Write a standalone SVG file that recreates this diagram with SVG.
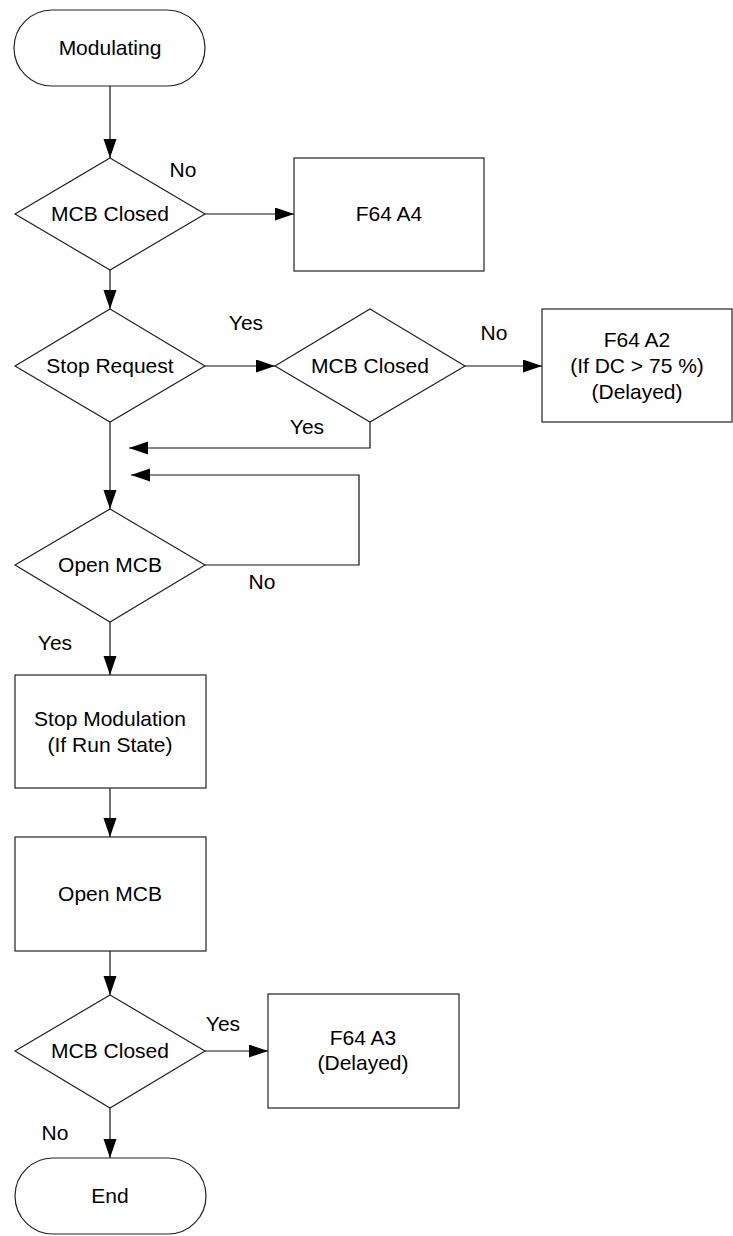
<svg xmlns="http://www.w3.org/2000/svg" width="733" height="1236" viewBox="0 0 733 1236">
<style>
.s{fill:#fff;stroke:#222;stroke-width:1.2}
.c{fill:none;stroke:#111;stroke-width:1.2}
text{font-family:"Liberation Sans",Arial,sans-serif;font-size:21px;fill:#000;text-anchor:middle}
</style>
<defs>
<marker id="ah" markerUnits="userSpaceOnUse" markerWidth="20" markerHeight="14" refX="19" refY="6.5" orient="auto">
<path d="M0,0 L19,6.5 L0,13 z" fill="#000"/>
</marker>
</defs>
<rect width="733" height="1236" fill="#fff"/>
<g id="connectors">
<path class="c" d="M110,86 V158" marker-end="url(#ah)"/>
<path class="c" d="M205,214 H294" marker-end="url(#ah)"/>
<path class="c" d="M110,270 V309" marker-end="url(#ah)"/>
<path class="c" d="M205,366 H275" marker-end="url(#ah)"/>
<path class="c" d="M465,366 H542" marker-end="url(#ah)"/>
<path class="c" d="M110,422 V509" marker-end="url(#ah)"/>
<path class="c" d="M370,422 V448 H129" marker-end="url(#ah)"/>
<path class="c" d="M205,565 H359 V475 H131" marker-end="url(#ah)"/>
<path class="c" d="M110,622 V675" marker-end="url(#ah)"/>
<path class="c" d="M110,788 V837" marker-end="url(#ah)"/>
<path class="c" d="M110,951 V995" marker-end="url(#ah)"/>
<path class="c" d="M205,1051 H268" marker-end="url(#ah)"/>
<path class="c" d="M110,1108 V1158" marker-end="url(#ah)"/>
<text x="183" y="177">No</text>
<text x="246" y="330">Yes</text>
<text x="494" y="340">No</text>
<text x="307" y="434">Yes</text>
<text x="262" y="589">No</text>
<text x="55" y="650">Yes</text>
<text x="223" y="1031">Yes</text>
<text x="55" y="1140">No</text>
</g>
<g id="modulating">
<rect class="s" x="14" y="10" width="191" height="76" rx="38" ry="38"/>
<text x="110" y="55">Modulating</text>
</g>
<g id="mcb-closed-1">
<polygon class="s" points="110,158 205,214 110,270 15,214"/>
<text x="110" y="221">MCB Closed</text>
</g>
<g id="f64-a4">
<rect class="s" x="294" y="158" width="190" height="113"/>
<text x="389" y="221">F64 A4</text>
</g>
<g id="stop-request">
<polygon class="s" points="110,309 205,366 110,422 15,366"/>
<text x="110" y="373">Stop Request</text>
</g>
<g id="mcb-closed-2">
<polygon class="s" points="370,309 465,366 370,422 275,366"/>
<text x="370" y="373">MCB Closed</text>
</g>
<g id="f64-a2">
<rect class="s" x="542" y="309" width="190" height="113"/>
<text x="637" y="347">F64 A2</text>
<text x="637" y="373">(If DC &gt; 75 %)</text>
<text x="637" y="399">(Delayed)</text>
</g>
<g id="open-mcb-decision">
<polygon class="s" points="110,509 205,565 110,622 15,565"/>
<text x="110" y="572">Open MCB</text>
</g>
<g id="stop-modulation">
<rect class="s" x="15" y="675" width="191" height="113"/>
<text x="110" y="726">Stop Modulation</text>
<text x="110" y="752">(If Run State)</text>
</g>
<g id="open-mcb">
<rect class="s" x="15" y="837" width="191" height="114"/>
<text x="110" y="901">Open MCB</text>
</g>
<g id="mcb-closed-3">
<polygon class="s" points="110,995 205,1051 110,1108 15,1051"/>
<text x="110" y="1058">MCB Closed</text>
</g>
<g id="f64-a3">
<rect class="s" x="268" y="994" width="191" height="114"/>
<text x="363" y="1045">F64 A3</text>
<text x="363" y="1070">(Delayed)</text>
</g>
<g id="end">
<rect class="s" x="15" y="1158" width="191" height="76" rx="38" ry="38"/>
<text x="110" y="1203">End</text>
</g>
</svg>
